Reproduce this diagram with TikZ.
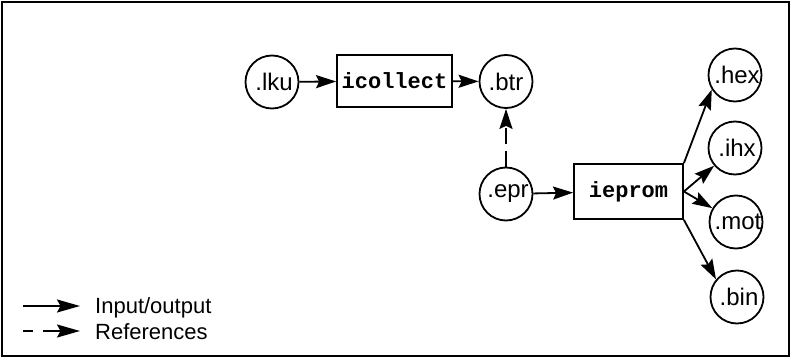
\documentclass[tikz,border=0pt]{standalone}
\usepackage{fontspec}
\setmainfont{Liberation Sans}
\newfontfamily\codefont{Liberation Mono}
\usetikzlibrary{arrows.meta}
\tikzset{
  file/.style={circle, draw, line width=1.8pt, minimum size=53pt, inner sep=0pt, font=\fontsize{24}{24}\selectfont},
  tool/.style={rectangle, draw, line width=1.8pt, inner sep=0pt, font=\codefont\bfseries\fontsize{22}{22}\selectfont},
  flow/.style={line width=1.8pt, -{Stealth[length=20pt,width=13pt,inset=3pt]}},
  refer/.style={flow, dash pattern=on 16pt off 7pt},
  legend/.style={anchor=base west, inner sep=0pt, font=\fontsize{22}{22}\selectfont},
  keyarrow/.style={-{Stealth[length=23pt,width=13pt,inset=3.5pt]}},
}
% file names sit a little right of the circle centres
\newcommand{\fname}[1]{\hspace{4pt}#1}
\begin{document}
\begin{tikzpicture}[x=1pt,y=-1pt]
  \useasboundingbox (0,0) rectangle (791,358);
  \draw[line width=1.8pt] (2,2) rectangle (789,356);

  % collection stage
  \node[file] (lku) at (272,82) {\fname{.lku}};
  \node[tool, minimum width=115pt, minimum height=52pt] (icollect) at (394.5,81) {icollect};
  \node[file] (btr) at (506,81.5) {.btr};

  % prom stage
  \node[file] (epr) at (506,194) {\fname{.epr}};
  \node[tool, minimum width=109pt, minimum height=55pt] (ieprom) at (628.5,191.5) {ieprom};

  % output formats
  \node[file] (hex) at (735,75) {\fname{.hex}};
  \node[file] (ihx) at (735,148) {\fname{.ihx}};
  \node[file] (mot) at (736,222) {\fname{.mot}};
  \node[file] (bin) at (737,297) {\fname{.bin}};

  \draw[flow] (lku) -- (icollect);
  \draw[flow] (icollect) -- (btr);
  \draw[refer] (epr) -- (btr);
  \draw[flow] (epr) -- (ieprom);
  \draw[flow] (ieprom.north east) -- (hex.212);
  \draw[flow] (ieprom.east) -- (ihx);
  \draw[flow] (ieprom.east) -- (mot);
  \draw[flow] (ieprom.south east) -- (bin.140);

  % legend
  \coordinate (l1a) at (23,306);
  \coordinate (l1b) at (80,306);
  \coordinate (l2a) at (23,331);
  \coordinate (l2b) at (80,331);
  \draw[flow, keyarrow] (l1a) -- (l1b);
  \draw[flow, keyarrow, dash pattern=on 10pt off 10pt on 60pt off 1pt] (l2a) -- (l2b);
  \node[legend] (lio) at (95,313) {Input/output};
  \node[legend] (lref) at (95,339) {References};
\end{tikzpicture}
\end{document}
